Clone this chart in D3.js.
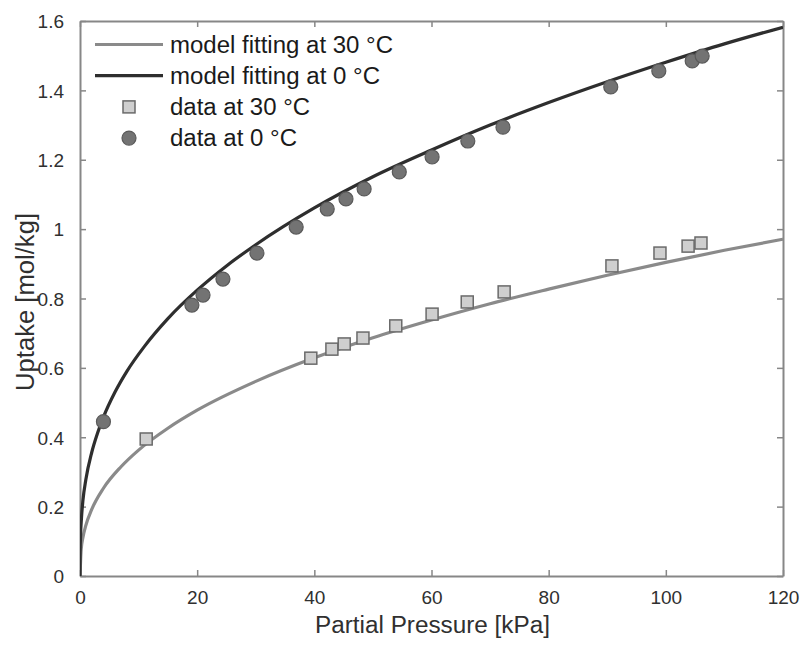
<!DOCTYPE html>
<html>
<head>
<meta charset="utf-8">
<script src="https://cdn.jsdelivr.net/npm/d3@7"></script>
<style>
body { margin: 0; background: #fff; }
text { font-family: "Liberation Sans", Arial, sans-serif; }
</style>
</head>
<body>
<div id="chart"></div>
<script>
// data at 0 °C (circles)
var p0 = [4.0, 19.1, 21.0, 24.4, 30.2, 36.9, 42.2, 45.4, 48.5, 54.5, 60.1, 66.2, 72.2, 90.6, 98.8, 104.5, 106.2];
var q0 = [0.445, 0.781, 0.81, 0.856, 0.931, 1.006, 1.058, 1.087, 1.116, 1.165, 1.208, 1.254, 1.294, 1.41, 1.456, 1.485, 1.499];
// data at 30 °C (squares)
var p30 = [11.3, 39.4, 43.0, 45.1, 48.3, 53.9, 60.1, 66.1, 72.4, 90.8, 99.0, 103.8, 106.0];
var q30 = [0.395, 0.628, 0.654, 0.669, 0.686, 0.721, 0.755, 0.79, 0.819, 0.894, 0.931, 0.951, 0.96];
// model curves
var fit0P = [0, 0.02, 0.1, 0.25, 0.5, 1, 2, 3, 4, 6, 8, 11, 15, 20, 25, 30, 40, 50, 60, 70, 80, 90, 100, 110, 120];
var fit0 = [0, 0.066, 0.119, 0.167, 0.218, 0.278, 0.356, 0.412, 0.458, 0.531, 0.59, 0.662, 0.742, 0.824, 0.894, 0.955, 1.061, 1.151, 1.228, 1.3, 1.365, 1.425, 1.481, 1.534, 1.582];
var fit30P = [0, 0.2, 0.5, 1, 2, 4, 7, 10, 15, 20, 30, 40, 50, 60, 70, 80, 90, 100, 110, 120];
var fit30 = [0, 0.077, 0.111, 0.146, 0.192, 0.253, 0.315, 0.363, 0.426, 0.478, 0.561, 0.629, 0.687, 0.738, 0.785, 0.827, 0.867, 0.904, 0.939, 0.971];
var xTicks = [0, 20, 40, 60, 80, 100, 120];
var yTicks = [0, 0.2, 0.4, 0.6, 0.8, 1, 1.2, 1.4, 1.6];

var width = 808, height = 648;
var mLeft = 80, mRight = 783, mTop = 21, mBottom = 576;
var axisColor = "#878787", labelColor = "#303030";

var x = d3.scaleLinear().domain([0, 120]).range([mLeft, mRight]);
var y = d3.scaleLinear().domain([0, 1.6]).range([mBottom, mTop]);

var svg = d3.select("#chart").append("svg").attr("width", width).attr("height", height);

// axes with inward ticks, box on
var gx = svg.append("g").attr("transform", "translate(0," + mBottom + ")")
	.call(d3.axisBottom(x).tickValues(xTicks).tickSizeInner(-6).tickSizeOuter(0).tickPadding(15).tickFormat(d3.format("d")));
var gxt = svg.append("g").attr("transform", "translate(0," + mTop + ")")
	.call(d3.axisTop(x).tickValues(xTicks).tickSizeInner(-6).tickSizeOuter(0).tickFormat(""));
var gy = svg.append("g").attr("transform", "translate(" + mLeft + ",0)")
	.call(d3.axisLeft(y).tickValues(yTicks).tickSizeInner(-6).tickSizeOuter(0).tickPadding(16).tickFormat(function(d) { return d3.format("~g")(d); }));
var gyr = svg.append("g").attr("transform", "translate(" + mRight + ",0)")
	.call(d3.axisRight(y).tickValues(yTicks).tickSizeInner(-6).tickSizeOuter(0).tickFormat(""));

[gx, gxt, gy, gyr].forEach(function(g) {
	g.select(".domain").attr("stroke", axisColor).attr("stroke-width", 2);
	g.selectAll(".tick line").attr("stroke", axisColor).attr("stroke-width", 1.5);
	g.selectAll(".tick text").attr("fill", labelColor).attr("font-size", 19);
});
gx.selectAll(".tick text").attr("dy", "0.71em");
gy.selectAll(".tick text").attr("dy", "0.36em");

svg.append("text").attr("x", (mLeft + mRight) / 2 + 1).attr("y", 633)
	.attr("text-anchor", "middle").attr("font-size", 23.5).attr("fill", labelColor)
	.attr("textLength", 235).attr("lengthAdjust", "spacingAndGlyphs")
	.text("Partial Pressure [kPa]");
svg.append("text").attr("transform", "translate(34,302) rotate(-90)")
	.attr("text-anchor", "middle").attr("font-size", 25).attr("fill", labelColor)
	.attr("textLength", 178).attr("lengthAdjust", "spacingAndGlyphs")
	.text("Uptake [mol/kg]");

var line = d3.line().curve(d3.curveMonotoneX)
	.x(function(d) { return x(d[0]); })
	.y(function(d) { return y(d[1]); });

svg.append("clipPath").attr("id", "plotclip").append("rect")
	.attr("x", mLeft).attr("y", mTop).attr("width", mRight - mLeft).attr("height", mBottom - mTop);

svg.append("path").datum(d3.zip(fit30P, fit30)).attr("d", line)
	.attr("clip-path", "url(#plotclip)")
	.attr("fill", "none").attr("stroke", "#8a8a8a").attr("stroke-width", 3.2);
svg.append("path").datum(d3.zip(fit0P, fit0)).attr("d", line)
	.attr("clip-path", "url(#plotclip)")
	.attr("fill", "none").attr("stroke", "#2e2e2e").attr("stroke-width", 3.2);

svg.append("g").selectAll("rect").data(d3.zip(p30, q30)).enter().append("rect")
	.attr("x", function(d) { return x(d[0]) - 6; })
	.attr("y", function(d) { return y(d[1]) - 6; })
	.attr("width", 12).attr("height", 12)
	.attr("fill", "#cfcfcf").attr("stroke", "#6a6a6a").attr("stroke-width", 1.5);

svg.append("g").selectAll("circle").data(d3.zip(p0, q0)).enter().append("circle")
	.attr("cx", function(d) { return x(d[0]); })
	.attr("cy", function(d) { return y(d[1]); })
	.attr("r", 7)
	.attr("fill", "#737373").attr("stroke", "#5a5a5a").attr("stroke-width", 1.2);

// legend (no box)
var legend = svg.append("g");
var items = [
	{label: "model fitting at 30 °C", type: "line", color: "#8a8a8a", w: 223},
	{label: "model fitting at 0 °C", type: "line", color: "#2e2e2e", w: 210},
	{label: "data at 30 °C", type: "square", w: 140},
	{label: "data at 0 °C", type: "circle", w: 127}
];
items.forEach(function(it, i) {
	var ly = 44.5 + i * 31.2;
	if (it.type == "line") {
		legend.append("line").attr("x1", 95).attr("x2", 163).attr("y1", ly).attr("y2", ly)
			.attr("stroke", it.color).attr("stroke-width", 3.2);
	} else if (it.type == "square") {
		legend.append("rect").attr("x", 123).attr("y", ly - 6).attr("width", 12).attr("height", 12)
			.attr("fill", "#cfcfcf").attr("stroke", "#6a6a6a").attr("stroke-width", 1.5);
	} else {
		legend.append("circle").attr("cx", 129).attr("cy", ly).attr("r", 7)
			.attr("fill", "#737373").attr("stroke", "#5a5a5a").attr("stroke-width", 1.2);
	}
	legend.append("text").attr("x", 170).attr("y", ly).attr("dy", "0.35em")
		.attr("font-size", 23.5).attr("fill", "#1a1a1a")
		.attr("textLength", it.w).attr("lengthAdjust", "spacingAndGlyphs")
		.text(it.label);
});
</script>
</body>
</html>
